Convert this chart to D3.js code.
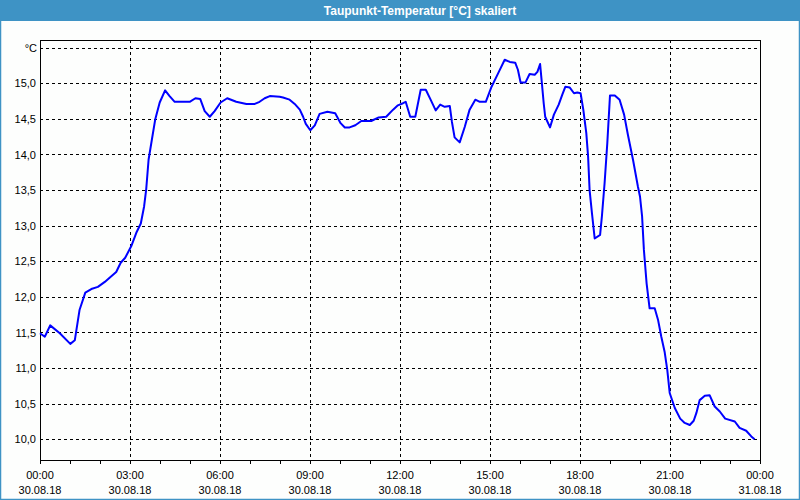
<!DOCTYPE html>
<html lang="de">
    <head>
        <meta charset="utf-8">
        <title>Taupunkt-Temperatur</title>
        <script type="text/javascript" src="https://cdn.jsdelivr.net/npm/d3@7"></script>
        <style>
            body { margin: 0; background: #ffffff; }
            text { font-family: "Liberation Sans", Arial, sans-serif; }
        </style>
    </head>
    <body>
        <script type="text/javascript">

            // data: hours since 30.08.18 00:00 and dew point in degC
            var hours = [0.00, 0.16, 0.34, 0.66, 1.01, 1.16, 1.32, 1.51, 1.71, 1.93, 2.16, 2.32, 2.54, 2.69, 2.84,
                3.04, 3.21, 3.36, 3.47, 3.54, 3.62, 3.73, 3.84, 3.99, 4.17, 4.32, 4.49, 4.99, 5.18, 5.34, 5.49,
                5.66, 5.82, 6.02, 6.24, 6.54, 6.88, 7.16, 7.32, 7.49, 7.66, 7.99, 8.10, 8.32, 8.49, 8.66, 8.77,
                8.86, 9.01, 9.16, 9.32, 9.58, 9.84, 10.02, 10.16, 10.32, 10.51, 10.71, 11.04, 11.29, 11.54, 11.77,
                11.93, 12.10, 12.19, 12.34, 12.51, 12.69, 12.86, 13.02, 13.19, 13.34, 13.49, 13.66, 13.73, 13.82,
                13.99, 14.16, 14.32, 14.51, 14.66, 14.86, 15.04, 15.27, 15.49, 15.66, 15.84, 15.93, 16.02, 16.18,
                16.32, 16.49, 16.58, 16.67, 16.73, 16.79, 16.84, 17.00, 17.13, 17.29, 17.41, 17.51, 17.66, 17.80,
                17.91, 18.02, 18.11, 18.21, 18.27, 18.32, 18.40, 18.49, 18.67, 18.73, 18.82, 18.91, 19.00, 19.16,
                19.32, 19.47, 19.60, 19.77, 19.93, 20.00, 20.07, 20.13, 20.22, 20.32, 20.49, 20.60, 20.71, 20.82,
                20.91, 20.99, 21.16, 21.34, 21.49, 21.66, 21.79, 21.88, 21.99, 22.16, 22.32, 22.49, 22.66, 22.84,
                23.16, 23.32, 23.54, 23.71, 23.82];
            var dewPoint = [11.49, 11.44, 11.60, 11.49, 11.34, 11.39, 11.82, 12.06, 12.11, 12.14, 12.21, 12.27, 12.35, 12.48, 12.55,
                12.71, 12.90, 13.03, 13.27, 13.51, 13.93, 14.21, 14.49, 14.73, 14.90, 14.82, 14.74, 14.74, 14.79, 14.78, 14.61,
                14.53, 14.61, 14.73, 14.79, 14.74, 14.71, 14.71, 14.74, 14.79, 14.82, 14.81, 14.80, 14.77, 14.71, 14.63, 14.53,
                14.43, 14.34, 14.41, 14.57, 14.60, 14.58, 14.44, 14.38, 14.38, 14.41, 14.47, 14.47, 14.52, 14.53, 14.63,
                14.69, 14.72, 14.74, 14.53, 14.53, 14.91, 14.91, 14.77, 14.62, 14.70, 14.67, 14.68, 14.46, 14.24,
                14.17, 14.39, 14.63, 14.77, 14.74, 14.74, 14.94, 15.14, 15.33, 15.30, 15.29, 15.19, 15.01, 15.01,
                15.13, 15.12, 15.16, 15.27, 15.00, 14.72, 14.53, 14.38, 14.56, 14.70, 14.84, 14.95, 14.94, 14.86,
                14.87, 14.86, 14.63, 14.30, 13.97, 13.50, 13.17, 12.82, 12.87, 13.13, 13.60, 14.16, 14.83, 14.83,
                14.77, 14.56, 14.27, 13.92, 13.55, 13.41, 13.13, 12.66, 12.19, 11.84, 11.84, 11.68, 11.44, 11.23,
                10.97, 10.65, 10.44, 10.29, 10.23, 10.20, 10.26, 10.37, 10.55, 10.61, 10.62, 10.46, 10.39, 10.29,
                10.25, 10.16, 10.12, 10.04, 10.00];

            // axis labels
            var yTicks = [10.0, 10.5, 11.0, 11.5, 12.0, 12.5, 13.0, 13.5, 14.0, 14.5, 15.0];
            var yUnit = "°C";
            var xTicks = [0, 3, 6, 9, 12, 15, 18, 21, 24];
            var xTimeLabels = ["00:00", "03:00", "06:00", "09:00", "12:00", "15:00", "18:00", "21:00", "00:00"];
            var xDateLabels = ["30.08.18", "30.08.18", "30.08.18", "30.08.18", "30.08.18", "30.08.18", "30.08.18", "30.08.18", "31.08.18"];
            var title = "Taupunkt-Temperatur [°C] skaliert";

            var svgWidth = 800;
            var svgHeight = 500;
            var plotLeft = 40, plotRight = 760, plotTop = 40, plotBottom = 460;

            var svg = d3.select("body")
                        .append("svg")
                        .attr("width", svgWidth)
                        .attr("height", svgHeight)
                        .style("display", "block");

            // window frame
            svg.append("rect")
                .attr("x", 0).attr("y", 0)
                .attr("width", svgWidth).attr("height", svgHeight)
                .attr("fill", "#fdfefd");
            svg.append("rect")
                .attr("x", 0.5).attr("y", 0.5)
                .attr("width", svgWidth - 1).attr("height", svgHeight - 1)
                .attr("fill", "none")
                .attr("stroke", "#3e93c5")
                .attr("stroke-width", 1.5);
            svg.append("rect")
                .attr("x", 0).attr("y", 0)
                .attr("width", svgWidth).attr("height", 21)
                .attr("fill", "#3e93c5");
            svg.append("text")
                .attr("x", 420)
                .attr("y", 15)
                .attr("fill", "#ffffff")
                .attr("font-size", "12px")
                .attr("font-weight", "bold")
                .attr("text-anchor", "middle")
                .text(title);

            var xScale = d3.scaleLinear()
                            .domain([0, 24])
                            .range([plotLeft, plotRight]);
            var yScale = d3.scaleLinear()
                            .domain([9.709, 15.608])
                            .range([plotBottom, plotTop]);

            // grid
            var grid = svg.append("g")
                        .attr("stroke", "#000")
                        .attr("stroke-width", 1)
                        .attr("stroke-dasharray", "3,3")
                        .attr("shape-rendering", "crispEdges");
            grid.selectAll("line.h")
                .data(yTicks.concat([15.5]))
                .enter()
                .append("line")
                .attr("class", "h")
                .attr("x1", plotLeft)
                .attr("x2", plotRight)
                .attr("y1", function(d) { return Math.round(yScale(d)) + 0.5; })
                .attr("y2", function(d) { return Math.round(yScale(d)) + 0.5; });
            grid.selectAll("line.v")
                .data(xTicks.slice(1, -1))
                .enter()
                .append("line")
                .attr("class", "v")
                .attr("y1", plotTop)
                .attr("y2", plotBottom)
                .attr("x1", function(d) { return Math.round(xScale(d)) + 0.5; })
                .attr("x2", function(d) { return Math.round(xScale(d)) + 0.5; });

            // plot frame
            svg.append("rect")
                .attr("x", plotLeft + 0.5)
                .attr("y", plotTop + 0.5)
                .attr("width", plotRight - plotLeft)
                .attr("height", plotBottom - plotTop)
                .attr("fill", "none")
                .attr("stroke", "#000")
                .attr("shape-rendering", "crispEdges");

            // y labels
            var yAxis = d3.axisLeft(yScale)
                            .tickValues(yTicks)
                            .tickSize(0)
                            .tickPadding(4)
                            .tickFormat(function(d) { return d3.format(".1f")(d).replace(".", ","); });
            var Y = svg.append("g")
                        .attr("transform", "translate(" + plotLeft + ",0)")
                        .call(yAxis);
            Y.select(".domain").remove();
            Y.selectAll("text")
                .attr("font-family", "Liberation Sans, Arial, sans-serif")
                .attr("font-size", "11px")
                .attr("fill", "#000");
            svg.append("text")
                .attr("x", plotLeft - 3)
                .attr("y", yScale(15.5) + 4)
                .attr("font-size", "11px")
                .attr("text-anchor", "end")
                .text(yUnit);

            // x axis: hourly ticks, labels every 3 hours
            var xAxis = d3.axisBottom(xScale)
                            .tickValues(d3.range(0, 25))
                            .tickSize(3)
                            .tickFormat("");
            var X = svg.append("g")
                        .attr("transform", "translate(0," + (plotBottom + 0.5) + ")")
                        .attr("shape-rendering", "crispEdges")
                        .call(xAxis);
            X.select(".domain").remove();
            X.selectAll(".tick line").attr("stroke", "#000");

            var xl = svg.append("g").selectAll("text")
                .data(xTicks)
                .enter()
                .append("text")
                .attr("x", function(d) { return xScale(d); })
                .attr("font-size", "11px")
                .attr("text-anchor", "middle");
            xl.append("tspan")
                .attr("x", function(d) { return xScale(d); })
                .attr("y", 479)
                .text(function(d, i) { return xTimeLabels[i]; });
            xl.append("tspan")
                .attr("x", function(d) { return xScale(d); })
                .attr("y", 494)
                .text(function(d, i) { return xDateLabels[i]; });

            // line
            var line = d3.line()
                        .x(function(d) { return xScale(d[0]); })
                        .y(function(d) { return yScale(d[1]); });
            svg.append("path")
                .datum(d3.zip(hours, dewPoint))
                .attr("d", line)
                .attr("fill", "none")
                .attr("stroke", "#0000ff")
                .attr("stroke-width", 2)
                .attr("stroke-linejoin", "round");

        </script>
    </body>
</html>
